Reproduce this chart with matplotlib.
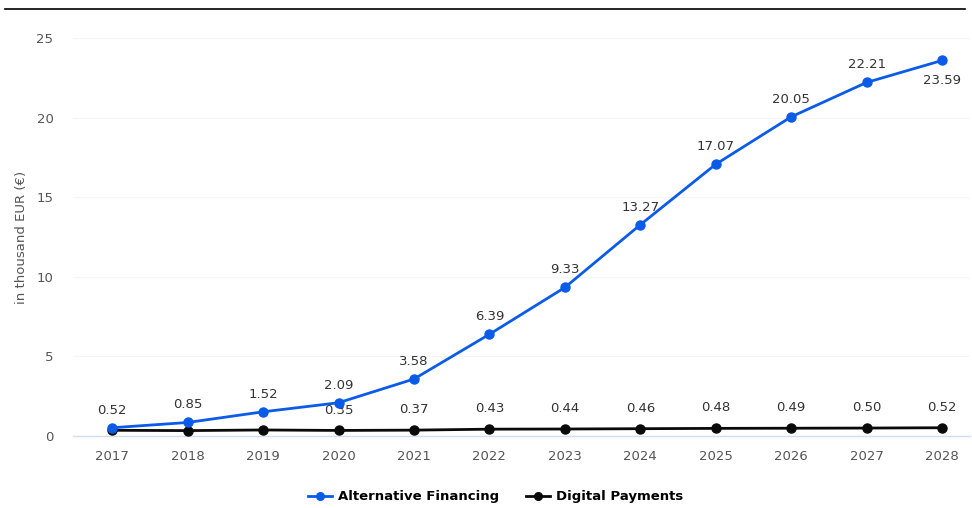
import matplotlib.pyplot as plt
from matplotlib.lines import Line2D

years = [2017, 2018, 2019, 2020, 2021, 2022, 2023, 2024, 2025, 2026, 2027, 2028]
alt_financing = [0.52, 0.85, 1.52, 2.09, 3.58, 6.39, 9.33, 13.27, 17.07, 20.05, 22.21, 23.59]
digital_payments = [0.36, 0.34, 0.38, 0.35, 0.37, 0.43, 0.44, 0.46, 0.48, 0.49, 0.50, 0.52]
y_ticks = [0, 5, 10, 15, 20, 25]

BLUE = '#0a5ce8'
BLACK = '#0a0a0a'
GRAY = '#555555'

plt.rcParams['font.family'] = ['DejaVu Sans']

fig = plt.figure(figsize=(9.72, 5.08), dpi=100)
ax = fig.add_axes([0.075, 0.1417, 0.923, 0.7835])

ax.plot(years, alt_financing, color=BLUE, lw=2, marker='o', ms=6.5, clip_on=False, zorder=4,
        label='Alternative Financing')
ax.plot(years, digital_payments, color=BLACK, lw=2, marker='o', ms=6.5, clip_on=False, zorder=3,
        label='Digital Payments')

# data labels
for i, (x, y) in enumerate(zip(years, alt_financing)):
    if i == len(years) - 1:
        ax.annotate(f'{y:.2f}', (x, y), xytext=(0, -10), textcoords='offset points',
                    ha='center', va='top', fontsize=9.5, color='#333333')
    else:
        ax.annotate(f'{y:.2f}', (x, y), xytext=(0, 8), textcoords='offset points',
                    ha='center', va='bottom', fontsize=9.5, color='#333333')
for i, (x, y) in enumerate(zip(years, digital_payments)):
    if i < 3:
        continue
    ax.annotate(f'{y:.2f}', (x, y), xytext=(0, 10), textcoords='offset points',
                ha='center', va='bottom', fontsize=9.5, color='#333333')

ax.set_xlim(2016.48, 2028.37)
ax.set_ylim(0, 25)
ax.set_xticks(years)
ax.set_yticks(y_ticks)
ax.tick_params(axis='both', length=0, labelsize=9.5, colors=GRAY)
ax.tick_params(axis='y', pad=14)
ax.tick_params(axis='x', pad=10)
ax.grid(axis='y', color='#f5f5f5', lw=0.8)
ax.set_axisbelow(True)
for side in ['top', 'right', 'left']:
    ax.spines[side].set_visible(False)
ax.spines['bottom'].set_color('#cfdcf5')
ax.spines['bottom'].set_linewidth(1)

ax.set_ylabel('in thousand EUR (€)', fontsize=9.5, color=GRAY)
ax.yaxis.set_label_coords(-0.05, 0.5)

fig.legend(loc='center', bbox_to_anchor=(0.51, 0.022), ncol=2, frameon=False,
           prop={'weight': 'bold', 'size': 9.5}, handlelength=1.8, columnspacing=2.0,
           handletextpad=0.5, markerscale=0.85)

fig.add_artist(Line2D([0.005, 0.993], [1 - 9 / 508, 1 - 9 / 508], color='black', lw=1.2,
                      transform=fig.transFigure))

fig.savefig('out.png', dpi=100)
